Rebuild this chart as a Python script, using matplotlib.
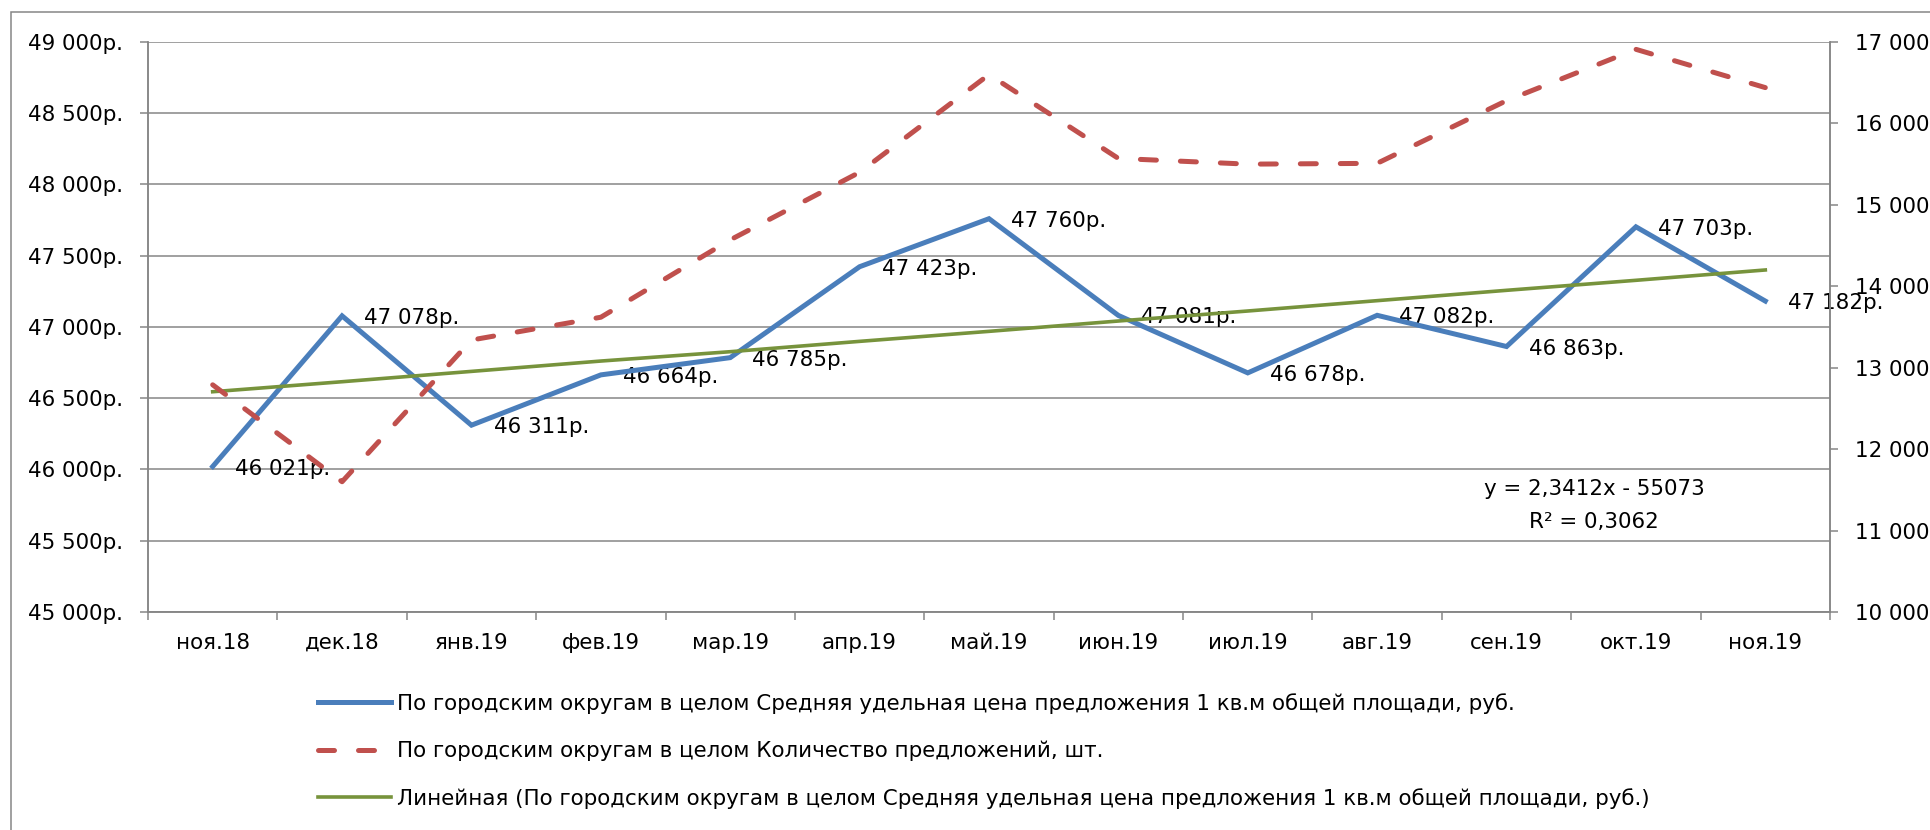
import numpy as np
import matplotlib
matplotlib.use("Agg")
import matplotlib.pyplot as plt
from matplotlib.patches import Rectangle
from matplotlib.ticker import FuncFormatter, FixedLocator, MultipleLocator

plt.rcParams['font.family'] = ['DejaVu Sans']

months = ["ноя.18", "дек.18", "янв.19", "фев.19", "мар.19", "апр.19", "май.19",
          "июн.19", "июл.19", "авг.19", "сен.19", "окт.19", "ноя.19"]
month_start = np.arange('2018-11', '2019-12', dtype='datetime64[M]')

# средняя удельная цена 1 кв.м, руб.
price = [46021, 47078, 46311, 46664, 46785, 47423, 47760,
         47081, 46678, 47082, 46863, 47703, 47182]
# количество предложений, шт.
offers = [12790, 11600, 13340, 13620, 14570, 15400, 16600,
          15570, 15500, 15510, 16280, 16910, 16440]

label_price = "По городским округам в целом Средняя удельная цена предложения 1 кв.м общей площади, руб."
label_offers = "По городским округам в целом Количество предложений, шт."
label_trend = "Линейная (По городским округам в целом Средняя удельная цена предложения 1 кв.м общей площади, руб.)"
eq_text = "y = 2,3412x - 55073"
r2_text = "R² = 0,3062"

BLUE = "#4A7EBB"
RED = "#C0504D"
GREEN = "#77933C"
GRID = "#868686"
FS = 15.4

# linear trend over dates, like Excel does
days = (month_start.astype('datetime64[D]') - np.datetime64('1899-12-30')).astype(float)
k, b = np.polyfit(days, price, 1)
trend = k * days + b

fig = plt.figure(figsize=(19.3, 8.3), dpi=100)
ax = fig.add_axes([148 / 1930, 1 - 612 / 830, (1830 - 148) / 1930, (612 - 42) / 830])
ax2 = ax.twinx()

x = np.arange(len(months))

l1, = ax.plot(x, price, color=BLUE, lw=3.6, solid_joinstyle='miter', zorder=3)
l3, = ax.plot(x, trend, color=GREEN, lw=2.6, zorder=4)
l2, = ax2.plot(x, offers, color=RED, lw=3.6, dashes=(3.2, 4.8),
               dash_capstyle='round', zorder=3)

for i, v in enumerate(price):
    ax.annotate(f"{v:,}".replace(",", " ") + "р.", xy=(i, v), xytext=(16, 0),
                textcoords='offset points', ha='left', va='center_baseline',
                fontsize=FS, zorder=2.5)

ax.text(0.8597, 0.2193, eq_text, transform=ax.transAxes, ha='center',
        va='center_baseline', fontsize=FS)
ax.text(0.8597, 0.1614, r2_text, transform=ax.transAxes, ha='center',
        va='center_baseline', fontsize=FS)

ax.set_xlim(-0.5, len(months) - 0.5)
ax.set_ylim(45000, 49000)
ax2.set_ylim(10000, 17000)

ax.yaxis.set_major_locator(MultipleLocator(500))
ax.yaxis.set_major_formatter(FuncFormatter(lambda v, p: f"{int(v):,}".replace(",", " ") + "р."))
ax2.yaxis.set_major_locator(MultipleLocator(1000))
ax2.yaxis.set_major_formatter(FuncFormatter(lambda v, p: f"{int(v):,}".replace(",", " ")))

ax.set_xticks(x)
ax.set_xticklabels(months)
ax.xaxis.set_minor_locator(FixedLocator(np.arange(-0.5, len(months), 1.0)))
ax.tick_params(axis='x', which='major', length=0, pad=15, labelsize=FS)
ax.tick_params(axis='x', which='minor', length=6, width=1.1, color=GRID)
ax.tick_params(axis='y', length=6, width=1.1, color=GRID, pad=12, labelsize=FS)
ax2.tick_params(axis='y', length=6, width=1.1, color=GRID, pad=12, labelsize=FS)

ax.grid(axis='y', color=GRID, lw=1.1)
ax.set_axisbelow(True)
for a in (ax, ax2):
    a.spines['top'].set_visible(False)
    for s in ('left', 'right', 'bottom'):
        a.spines[s].set_color(GRID)
        a.spines[s].set_linewidth(1.1)

fig.legend([l1, l2, l3], [label_price, label_offers, label_trend],
           loc='upper left', bbox_to_anchor=(318 / 1930, 1 - 693 / 830),
           frameon=False, fontsize=FS, handlelength=3.4, handletextpad=0.3,
           labelspacing=1.25, borderpad=0, borderaxespad=0)

fig.patches.append(Rectangle((11 / 1930, -0.1), 1.2, 1.1 - 12 / 830,
                             transform=fig.transFigure, fill=False,
                             edgecolor=GRID, lw=1.1))

fig.savefig("out.png", dpi=100)
